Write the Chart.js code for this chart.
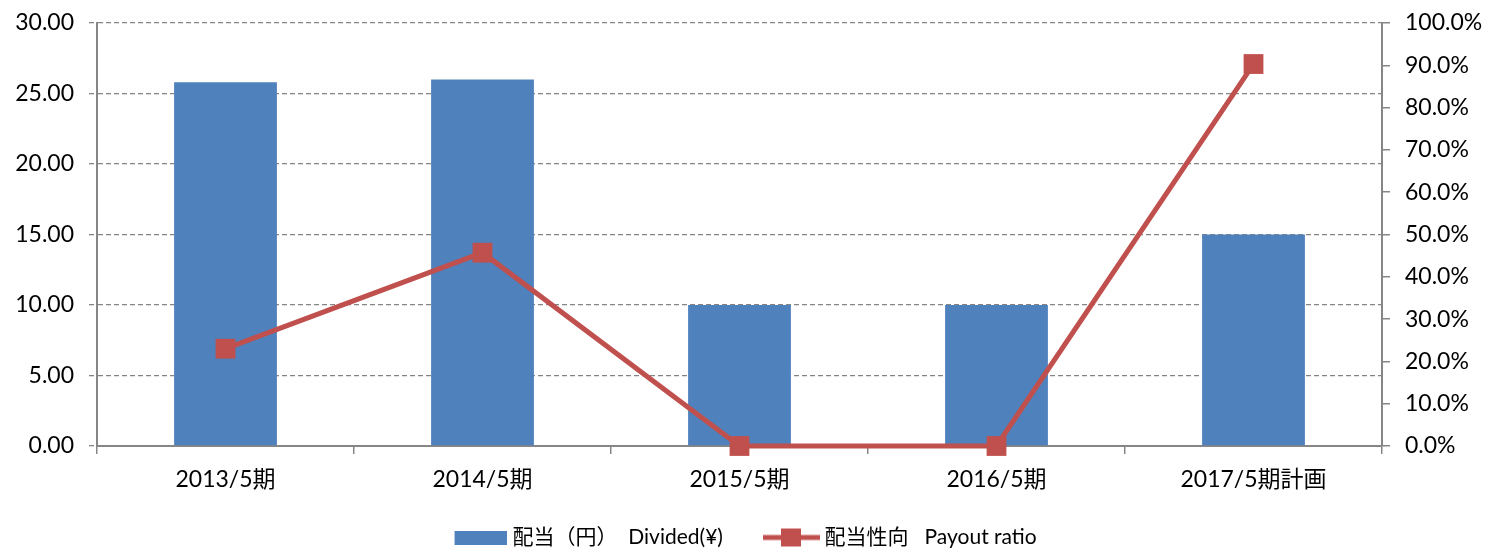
<!DOCTYPE html>
<html>
<head>
<meta charset="utf-8">
<script src="https://cdn.jsdelivr.net/npm/chart.js@4.4.1/dist/chart.umd.min.js"></script>
<style>
  html, body { margin: 0; padding: 0; background: #fff; }
  #wrap { width: 1490px; height: 550px; }
</style>
</head>
<body>
<div id="wrap"><canvas id="chart"></canvas></div>
<script>
"use strict";

// data
const categories = ["2013/5期", "2014/5期", "2015/5期", "2016/5期", "2017/5期計画"];
const dividends = [25.8, 26.0, 10.0, 10.0, 15.0];      // 円
const payoutRatio = [23.0, 45.7, 0.0, 0.0, 90.3];     // %
const leftTicks = [0, 5, 10, 15, 20, 25, 30];
const rightTicks = [0, 10, 20, 30, 40, 50, 60, 70, 80, 90, 100];
const seriesLabels = ["配当（円）  Divided(¥)", "配当性向   Payout ratio      "];

const BLUE = '#4F81BD';
const RED = '#C0504D';
const AXIS = '#868686';
const FONT = 'Lato, "Noto Sans CJK JP", sans-serif';

// legend markers (bar box / line with square), right-aligned in a wider canvas
// so the transparent left part works as the gap between legend items
function makeBarIcon() {
    const c = document.createElement('canvas');
    c.width = 90; c.height = 14;
    const g = c.getContext('2d');
    g.fillStyle = BLUE;
    g.fillRect(c.width - 52, 0, 52, 14);
    return c;
}
function makeLineIcon() {
    const c = document.createElement('canvas');
    c.width = 93; c.height = 20;
    const g = c.getContext('2d');
    const x0 = c.width - 57;
    g.strokeStyle = RED; g.lineWidth = 5;
    g.beginPath(); g.moveTo(x0, 10); g.lineTo(c.width, 10); g.stroke();
    g.fillStyle = RED;
    g.fillRect(x0 + 18, 1, 20, 18);
    return c;
}
const barIcon = makeBarIcon();
const lineIcon = makeLineIcon();

const ctx = document.getElementById('chart').getContext('2d');
new Chart(ctx, {
    data: {
        labels: categories,
        datasets: [
            {
                type: 'line', label: seriesLabels[1], data: payoutRatio, yAxisID: 'y1',
                borderColor: RED, backgroundColor: RED, borderWidth: 5,
                pointStyle: 'rect', pointRadius: 14, pointBorderWidth: 0,
                pointBackgroundColor: RED, tension: 0, clip: false, order: 0
            },
            {
                type: 'bar', label: seriesLabels[0], data: dividends, yAxisID: 'y',
                backgroundColor: BLUE, borderWidth: 0,
                barPercentage: 0.4, categoryPercentage: 1.0, order: 1
            }
        ]
    },
    options: {
        responsive: true, maintainAspectRatio: false, animation: false,
        layout: { padding: { top: 23, left: 0, right: 0, bottom: -8 } },
        plugins: {
            tooltip: { enabled: false },
            legend: {
                position: 'bottom',
                labels: {
                    usePointStyle: true, pointStyleWidth: 81, padding: 10,
                    color: '#000', font: { family: FONT, size: 21 },
                    generateLabels: (chart) => [1, 0].map(i => {
                        const ds = chart.data.datasets[i];
                        return {
                            text: ds.label, pointStyle: i === 1 ? barIcon : lineIcon,
                            fillStyle: ds.backgroundColor, strokeStyle: ds.backgroundColor,
                            lineWidth: 0, hidden: false, datasetIndex: i
                        };
                    })
                }
            }
        },
        scales: {
            x: {
                offset: true,
                grid: { offset: true, drawOnChartArea: false, drawTicks: true, tickLength: 8, color: AXIS, lineWidth: 1.5 },
                border: { color: AXIS, width: 2 },
                ticks: { color: '#000', padding: 12, font: { family: FONT, size: 23 }, maxRotation: 0 },
                afterFit: (s) => { s.height = 71; s.paddingLeft = 0; s.paddingRight = 0; }
            },
            y: {
                position: 'left', min: 0, max: 30,
                afterBuildTicks: (s) => { s.ticks = leftTicks.map(v => ({ value: v })); },
                grid: { color: '#858585', lineWidth: 1.3, tickLength: 8, tickBorderDash: [5, 3], tickColor: '#858585' },
                border: { color: AXIS, width: 2, dash: [5, 3] },   // dash = gridline dash in v4
                ticks: { color: '#000', padding: 15, font: { family: FONT, size: 23 }, callback: (v) => Number(v).toFixed(2) },
                afterFit: (s) => { s.width = 97; s.paddingTop = 0; s.paddingBottom = 0; }
            },
            y1: {
                position: 'right', min: 0, max: 100,
                afterBuildTicks: (s) => { s.ticks = rightTicks.map(v => ({ value: v })); },
                grid: { drawOnChartArea: false, tickLength: 8, color: AXIS, lineWidth: 1.5 },
                border: { color: AXIS, width: 2 },
                ticks: { color: '#000', padding: 15, font: { family: FONT, size: 23 }, callback: (v) => Number(v).toFixed(1) + '%' },
                afterFit: (s) => { s.width = 108; s.paddingTop = 0; s.paddingBottom = 0; }
            }
        }
    }
});
</script>
</body>
</html>
